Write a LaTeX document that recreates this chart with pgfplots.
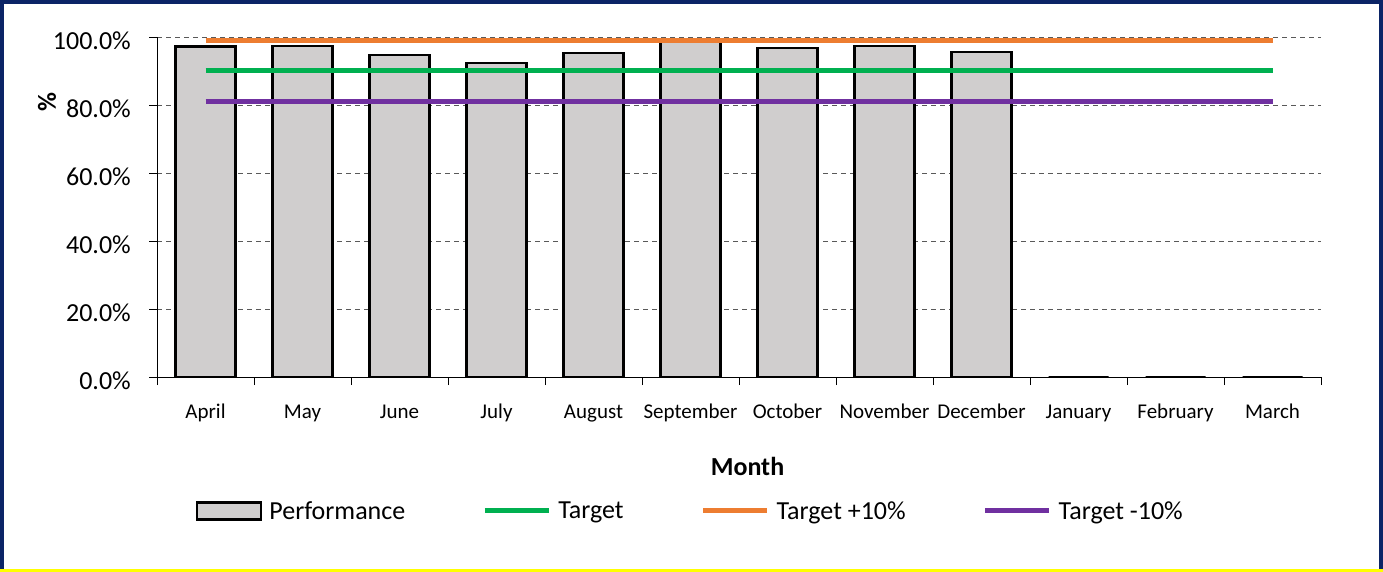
\documentclass[border=0pt]{standalone}
\usepackage{fontspec}
\setmainfont{Carlito}
\usepackage{pgfplots}
\pgfplotsset{compat=1.18}

\definecolor{barfill}{RGB}{208,206,206}
\definecolor{xlorange}{HTML}{ED7D31}
\definecolor{xlgreen}{HTML}{00B050}
\definecolor{xlpurple}{HTML}{7030A0}
\definecolor{navy}{HTML}{0B2466}
\definecolor{hilite}{HTML}{FFFF00}
\definecolor{gridgrey}{HTML}{595959}

\begin{document}
\begin{tikzpicture}
\useasboundingbox (0,0) rectangle (1383bp,572bp);
\fill[white] (0,0) rectangle (1383bp,572bp);
\begin{axis}[
    at={(157bp,195bp)}, anchor=south west,
    scale only axis, width=1164bp, height=340bp,
    xmin=-0.5, xmax=11.5,
    ymin=0, ymax=100,
    axis x line*=bottom, axis y line*=left,
    axis line style={-, black, line width=0.9bp},
    xtick={0,...,11},
    xticklabels={April,May,June,July,August,September,October,November,December,January,February,March},
    minor xtick={-0.5,0.5,...,11.5},
    major x tick style={draw=none},
    minor x tick style={black, line width=0.9bp},
    minor tick length=8bp,
    major tick length=8bp,
    tick align=outside,
    ytick={0,20,40,60,80,100},
    yticklabels={0.0\%,20.0\%,40.0\%,60.0\%,80.0\%,100.0\%},
    y tick style={black, line width=0.9bp},
    ymajorgrids=true,
    grid style={gridgrey, line width=0.9bp, dash pattern=on 5bp off 4bp},
    xticklabel style={font=\fontsize{21bp}{25bp}\selectfont, anchor=base, yshift=-33bp},
    yticklabel style={font=\fontsize{26bp}{31bp}\selectfont, anchor=east, inner sep=0pt, xshift=-18bp, yshift=-4bp},
    xlabel={Month},
    xlabel style={font=\fontsize{26bp}{31bp}\selectfont\bfseries, at={(axis description cs:0.5073,0)}, anchor=base, yshift=-98bp},
    ylabel={\%},
    ylabel style={font=\fontsize{26bp}{31bp}\selectfont\bfseries, at={(axis description cs:-0.0945,0.809)}, anchor=center},
    legend columns=4,
    legend cell align=left,
    legend style={at={(axis description cs:0.0335,-0.394)}, anchor=west, draw=none, fill=none, inner sep=0pt,
        font=\fontsize{26bp}{31bp}\selectfont,
        nodes={inner sep=0pt},
        /tikz/every odd column/.append style={column sep=7bp},
        /tikz/every even column/.append style={column sep=77bp}},
]

% Performance by month (Jan-Mar not yet reported)
\addplot[ybar, bar width=60bp, fill=barfill, draw=black, line width=2.2bp,
    legend image code/.code={\draw[fill=barfill, draw=black, line width=2.2bp] (0bp,-8.5bp) rectangle (64bp,8.5bp);}]
    coordinates {
    (0,97.2)(1,97.4)(2,94.6)(3,92.4)(4,95.2)(5,98.5)
    (6,96.7)(7,97.4)(8,95.6)(9,0)(10,0)(11,0)
    };
\addlegendentry{Performance}

\addplot[xlgreen, line width=5bp, mark=none,
    legend image code/.code={\draw[xlgreen, line width=5bp] (0bp,0bp) -- (64bp,0bp);}]
    coordinates {(0,90)(1,90)(2,90)(3,90)(4,90)(5,90)(6,90)(7,90)(8,90)(9,90)(10,90)(11,90)};
\addlegendentry{Target}

\addplot[xlorange, line width=5bp, mark=none,
    legend image code/.code={\draw[xlorange, line width=5bp] (0bp,0bp) -- (64bp,0bp);}]
    coordinates {(0,99)(1,99)(2,99)(3,99)(4,99)(5,99)(6,99)(7,99)(8,99)(9,99)(10,99)(11,99)};
\addlegendentry{Target +10\%}

\addplot[xlpurple, line width=5bp, mark=none,
    legend image code/.code={\draw[xlpurple, line width=5bp] (0bp,0bp) -- (64bp,0bp);}]
    coordinates {(0,81)(1,81)(2,81)(3,81)(4,81)(5,81)(6,81)(7,81)(8,81)(9,81)(10,81)(11,81)};
\addlegendentry{Target -10\%}
\end{axis}
\draw[navy, line width=4bp] (2bp,2.5bp) -- (2bp,570bp) -- (1381bp,570bp) -- (1381bp,2.5bp);
\draw[hilite, line width=3bp] (0,1.5bp) -- (1383bp,1.5bp);
\end{tikzpicture}
\end{document}
